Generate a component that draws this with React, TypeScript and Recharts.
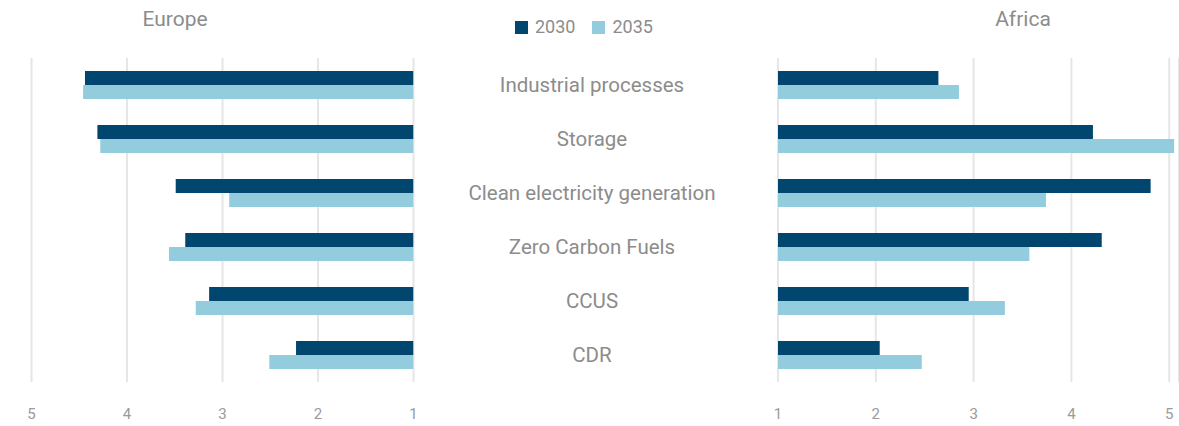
import { BarChart, Bar, XAxis, YAxis, CartesianGrid, Legend } from 'recharts'

const categories = [
  'Industrial processes',
  'Storage',
  'Clean electricity generation',
  'Zero Carbon Fuels',
  'CCUS',
  'CDR',
]
const europe2030 = [4.44, 4.31, 3.49, 3.39, 3.14, 2.23]
const europe2035 = [4.46, 4.28, 2.93, 3.56, 3.28, 2.51]
const africa2030 = [2.64, 4.22, 4.81, 4.31, 2.95, 2.04]
const africa2035 = [2.85, 5.05, 3.74, 3.57, 3.32, 2.47]
const ticks = [1, 2, 3, 4, 5]

const font = 'Roboto, sans-serif'
const dark = '#00466f'
const light = '#93cddd'
const textGray = '#8c8c8c'

const europeData = categories.map((name, i) => ({ name, y2030: europe2030[i], y2035: europe2035[i] }))
const africaData = categories.map((name, i) => ({ name, y2030: africa2030[i], y2035: africa2035[i] }))

const gridProps = { horizontal: false, stroke: '#e6e6e6', strokeWidth: 2 }

const xTick = { fontSize: 15, fill: '#9a9a9a', fontFamily: font }

function CategoryTick({ y, payload }: { y: number; payload: { value: string } }) {
  return (
    <text
      x={152}
      y={y}
      textAnchor="middle"
      dominantBaseline="central"
      fontSize={20.5}
      fontFamily={font}
      fill={textGray}
    >
      {payload.value}
    </text>
  )
}

function LegendContent({ payload }: { payload?: { value: string; color: string }[] }) {
  return (
    <div style={{ display: 'flex', gap: 17, fontFamily: font, fontSize: 18, color: textGray, lineHeight: '18px' }}>
      {(payload ?? []).map((p) => (
        <span key={p.value} style={{ display: 'flex', alignItems: 'center', gap: 7 }}>
          <span style={{ width: 13, height: 13, background: p.color, display: 'inline-block' }} />
          {p.value}
        </span>
      ))}
    </div>
  )
}

const titleStyle = {
  position: 'absolute' as const,
  top: 8,
  width: 200,
  textAlign: 'center' as const,
  fontFamily: font,
  fontSize: 21,
  color: textGray,
  lineHeight: '22px',
}

export default function App() {
  return (
    <div style={{ position: 'absolute', left: 0, top: 0, width: 1179, height: 426, background: '#fff' }}>
      <div style={{ ...titleStyle, left: 75 }}>Europe</div>
      <div style={{ ...titleStyle, left: 923 }}>Africa</div>

      <div style={{ position: 'absolute', left: 0, top: 0 }}>
        <BarChart
          width={440}
          height={426}
          data={europeData}
          layout="vertical"
          margin={{ top: 58, bottom: 14, left: 31.5, right: 26.5 }}
          barSize={14}
          barGap={0}
        >
          <CartesianGrid {...gridProps} />
          <XAxis
            type="number"
            domain={[1, 5]}
            ticks={ticks}
            reversed
            axisLine={false}
            tickLine={false}
            tickMargin={20}
            tick={xTick}
            allowDataOverflow
          />
          <YAxis type="category" dataKey="name" hide />
          <Bar dataKey="y2030" name="2030" fill={dark} isAnimationActive={false} />
          <Bar dataKey="y2035" name="2035" fill={light} isAnimationActive={false} />
        </BarChart>
      </div>

      <div style={{ position: 'absolute', left: 440, top: 0 }}>
        <BarChart
          width={739}
          height={426}
          data={africaData}
          layout="vertical"
          margin={{ top: 58, bottom: 14, left: 0, right: 0 }}
          barSize={14}
          barGap={0}
        >
          <CartesianGrid {...gridProps} />
          <XAxis
            type="number"
            domain={[1, 5.1]}
            ticks={ticks}
            axisLine={false}
            tickLine={false}
            tickMargin={20}
            tick={xTick}
            allowDataOverflow
          />
          <YAxis
            type="category"
            dataKey="name"
            width={338}
            axisLine={false}
            tickLine={false}
            tick={CategoryTick}
          />
          <Legend
            layout="vertical"
            align="center"
            verticalAlign="middle"
            content={LegendContent}
            wrapperStyle={{ left: 75, top: 18, width: 220 }}
          />
          <Bar dataKey="y2030" name="2030" fill={dark} isAnimationActive={false} />
          <Bar dataKey="y2035" name="2035" fill={light} isAnimationActive={false} />
        </BarChart>
      </div>
    </div>
  )
}
